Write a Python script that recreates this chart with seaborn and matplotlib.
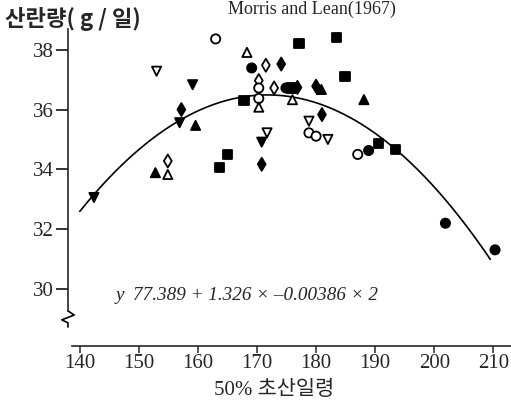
import numpy as np
import pandas as pd
import seaborn as sns
import matplotlib.pyplot as plt
from matplotlib.lines import Line2D
import matplotlib.transforms as mtransforms

# points: age at 50% production vs egg mass per day
age = [163.0, 153.0, 159.1, 157.2, 156.9, 159.6, 154.9, 152.8, 154.9, 142.4,
       165.05, 163.6, 170.8, 170.8, 171.7, 178.8, 180.0, 182.0, 178.8, 168.3,
       169.1, 171.5, 174.1, 177.1, 183.5, 184.9, 170.3, 170.3, 170.3, 170.3,
       172.9, 174.9, 175.8, 176.85, 176.0, 167.8, 180.0, 180.9, 181.0, 188.1,
       187.05, 188.9, 190.6, 193.4, 201.9, 210.3]
mass = [38.36, 37.28, 36.83, 36.0, 35.56, 35.47, 34.28, 33.89, 33.83, 33.06,
        34.5, 34.06, 34.17, 34.91, 35.22, 35.22, 35.11, 35.0, 35.61, 37.91,
        37.39, 37.48, 37.52, 38.2, 38.42, 37.11, 36.97, 36.72, 36.37, 36.08,
        36.72, 36.72, 36.72, 36.74, 36.33, 36.31, 36.78, 36.67, 35.83, 36.33,
        34.5, 34.63, 34.86, 34.67, 32.2, 31.31]
shape = ['circle', 'tri_down', 'tri_down', 'diamond', 'tri_down', 'tri_up', 'diamond', 'tri_up', 'tri_up', 'tri_down',
         'square', 'square', 'diamond', 'tri_down', 'tri_down', 'circle', 'circle', 'tri_down', 'tri_down', 'tri_up',
         'circle', 'diamond', 'diamond', 'square', 'square', 'square', 'diamond', 'circle', 'circle', 'tri_up',
         'diamond', 'circle', 'square', 'diamond', 'tri_up', 'square', 'diamond', 'tri_up', 'diamond', 'tri_up',
         'circle', 'circle', 'square', 'square', 'circle', 'circle']
fill = ['open', 'open', 'filled', 'filled', 'filled', 'filled', 'open', 'filled', 'open', 'filled',
        'filled', 'filled', 'filled', 'filled', 'open', 'open', 'open', 'open', 'open', 'open',
        'filled', 'open', 'filled', 'filled', 'filled', 'filled', 'open', 'open', 'open', 'open',
        'open', 'filled', 'filled', 'filled', 'open', 'filled', 'filled', 'filled', 'filled', 'filled',
        'open', 'filled', 'filled', 'filled', 'filled', 'filled']

# fitted quadratic y = b0 + b1*x + b2*x^2
coef = [-77.389, 1.326, -0.00386]
fit_range = [140, 209.5]

x_ticks = [140, 150, 160, 170, 180, 190, 200, 210]
y_ticks = [30, 32, 34, 36, 38]

df = pd.DataFrame({'age': age, 'mass': mass, 'shape': shape, 'fill': fill})

sns.set_style('ticks')
serif = ['Liberation Serif', 'Noto Sans CJK KR']
plt.rcParams['font.family'] = serif

fig = plt.figure(figsize=(5.11, 4.05), dpi=100)
ax = fig.add_axes([0.133, 0.146, 0.867, 0.783])

xs = np.linspace(fit_range[0], fit_range[1], 200)
ys = coef[0] + coef[1] * xs + coef[2] * xs ** 2
sns.lineplot(x=xs, y=ys, ax=ax, color='black', linewidth=1.2)

sns.scatterplot(data=df, x='age', y='mass', hue='fill', style='shape', ax=ax,
                palette={'filled': 'black', 'open': 'white'},
                markers={'circle': 'o', 'square': 's', 'tri_up': '^', 'tri_down': 'v', 'diamond': 'd'},
                s=44, edgecolor='black', linewidth=1.3, legend=False, zorder=3)

ax.set_xlim(138, 213)
ax.set_ylim(28.1, 38.7)
ax.set_xticks(x_ticks)
ax.set_yticks(y_ticks)
ax.tick_params(axis='x', direction='out', length=5, width=1.1, pad=1, labelsize=15)
ax.tick_params(axis='y', direction='out', length=9, width=1.3, pad=1, labelsize=15)
for sp in ['top', 'right']:
    ax.spines[sp].set_visible(False)
ax.spines['left'].set_bounds(29.27, 38.7)
ax.spines['bottom'].set_bounds(138.7, 213)
ax.spines['left'].set_linewidth(1.2)
ax.spines['bottom'].set_linewidth(1.2)
ax.set_xlabel('')
ax.set_ylabel('')

# axis break zigzag at the foot of the y axis
trans = mtransforms.blended_transform_factory(ax.transAxes, ax.transData)
ax.add_line(Line2D([0, 0.014, -0.014, 0, 0], [29.27, 29.13, 28.97, 28.87, 28.73],
                   transform=trans, color='black', linewidth=1.2, clip_on=False))

ax.text(146, 29.77, 'y  77.389 + 1.326 × –0.00386 × 2', fontsize=13.8,
        style='italic', va='center', ha='left')

fig.text(0.61, 0.999, 'Morris and Lean(1967)', ha='center', va='top', fontsize=13)
fig.text(0.01, 0.936, '산란량( g / 일)', ha='left', va='baseline', fontsize=16,
         fontweight='bold', family=['Noto Sans CJK KR', 'DejaVu Sans'])
fig.text(0.536, 0.025, '50% 초산일령', ha='center', va='baseline', fontsize=15)

fig.savefig('out.png', dpi=100)
